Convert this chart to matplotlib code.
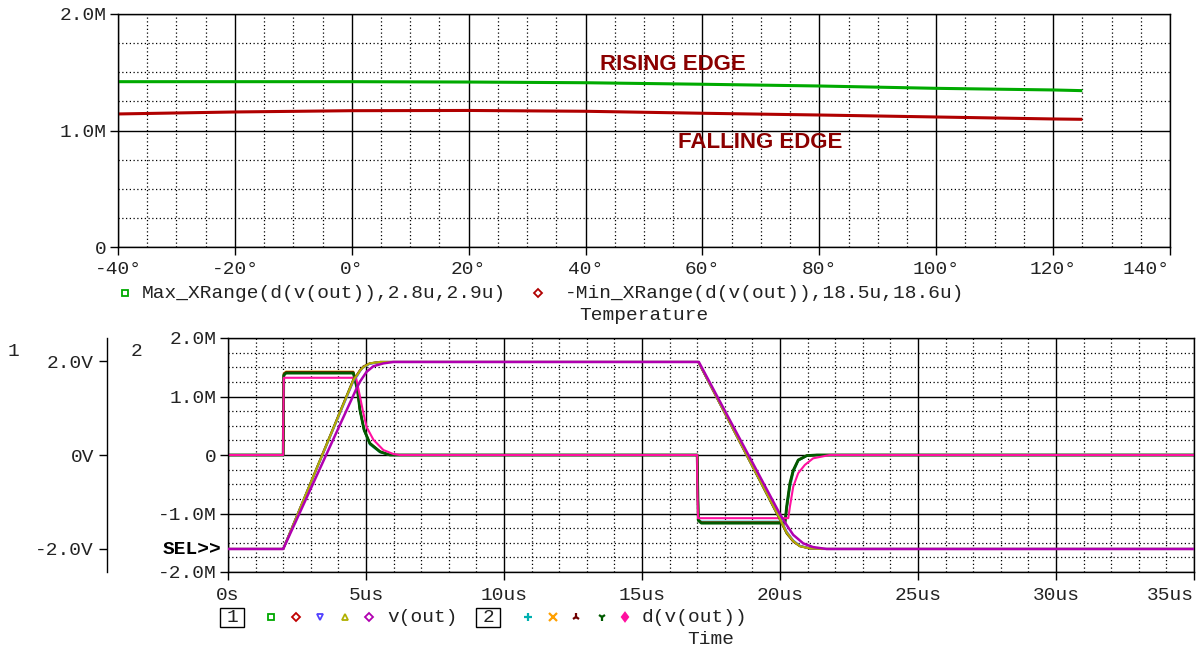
import matplotlib
matplotlib.use("Agg")
import matplotlib.pyplot as plt
import matplotlib.ticker as ticker
from matplotlib.lines import Line2D
from matplotlib.patches import Rectangle

plt.rcParams["font.family"] = ["Liberation Mono", "DejaVu Sans Mono"]
plt.rcParams["font.size"] = 14

W, H = 1199, 650

# ---- top chart: slew rate of v(out) vs temperature (units of 1e6 V/s)
temperature = [-40, -20, 0, 20, 40, 60, 80, 100, 120, 125]
rising_edge = [1.419, 1.419, 1.419, 1.416, 1.410, 1.397, 1.382, 1.362, 1.348, 1.342]
falling_edge = [1.142, 1.159, 1.170, 1.172, 1.165, 1.148, 1.133, 1.116, 1.099, 1.096]
temp_ticks = [-40, -20, 0, 20, 40, 60, 80, 100, 120, 140]
temp_labels = ["-40°", "-20°", "0°", "20°", "40°", "60°", "80°", "100°", "120°", "140°"]
slew_ticks = [0, 1, 2]
slew_labels = ["0", "1.0M", "2.0M"]

# ---- bottom chart: transient, time in us
time_ticks = [0, 5, 10, 15, 20, 25, 30, 35]
time_labels = ["0s", "5us", "10us", "15us", "20us", "25us", "30us", "35us"]
volt_ticks = [-2, 0, 2]
volt_labels = ["-2.0V", "0V", "2.0V"]
deriv_ticks = [-2, -1, 0, 1, 2]
deriv_labels = ["-2.0M", "-1.0M", "0", "1.0M", "2.0M"]

# v(out), axis 1 (V)
t_v_fast = [0, 2.0, 4.55, 4.69, 4.78, 4.9, 5.14, 5.51, 6.0, 17.04, 20.0, 20.24, 20.48, 20.72, 21.09, 21.5, 35]
v_green = [-2.0, -2.0, 1.62, 1.72, 1.80, 1.88, 1.95, 1.98, 1.98, 1.98, -1.38, -1.67, -1.84, -1.94, -1.99, -2.0, -2.0]
v_red = [-2.0, -2.0, 1.61, 1.72, 1.80, 1.88, 1.95, 1.98, 1.98, 1.98, -1.37, -1.66, -1.84, -1.94, -1.99, -2.0, -2.0]
v_blue = [-2.0, -2.0, 1.58, 1.69, 1.78, 1.87, 1.94, 1.98, 1.98, 1.98, -1.35, -1.63, -1.82, -1.93, -1.99, -2.0, -2.0]
v_olive = [-2.0, -2.0, 1.60, 1.71, 1.79, 1.87, 1.95, 1.98, 1.98, 1.98, -1.36, -1.65, -1.83, -1.94, -1.99, -2.0, -2.0]
t_v_slow = [0, 2.0, 4.66, 4.78, 5.02, 5.27, 5.63, 5.99, 17.06, 20.0, 20.24, 20.48, 20.84, 21.2, 21.69, 35]
v_purple = [-2.0, -2.0, 1.42, 1.56, 1.77, 1.89, 1.95, 1.98, 1.98, -1.26, -1.49, -1.70, -1.88, -1.96, -2.0, -2.0]

# d(v(out)), axis 2 (units of 1e6 V/s)
t_d_fast = [0, 2.0, 2.02, 2.10, 4.54, 4.69, 4.78, 4.93, 5.14, 5.51, 5.87, 17.0, 17.04, 17.15,
            20.18, 20.24, 20.36, 20.48, 20.66, 20.97, 21.33, 35]
d_cyan = [0, 0, 1.38, 1.42, 1.42, 1.12, 0.77, 0.42, 0.18, 0.045, 0, 0, -1.10, -1.14,
          -1.14, -0.95, -0.56, -0.30, -0.10, -0.015, 0, 0]
d_orange = [0, 0, 1.39, 1.425, 1.425, 1.13, 0.78, 0.43, 0.20, 0.055, 0, 0, -1.11, -1.155,
            -1.155, -0.91, -0.50, -0.27, -0.09, -0.01, 0, 0]
d_brown = [0, 0, 1.38, 1.415, 1.415, 1.12, 0.78, 0.43, 0.20, 0.055, 0, 0, -1.11, -1.155,
           -1.155, -0.90, -0.49, -0.27, -0.09, -0.01, 0, 0]
d_dkgreen = [0, 0, 1.36, 1.40, 1.40, 1.11, 0.77, 0.43, 0.20, 0.057, 0, 0, -1.12, -1.165,
             -1.165, -0.88, -0.48, -0.26, -0.085, -0.01, 0, 0]
t_d_slow = [0, 2.0, 2.0, 2.01, 2.02, 4.64, 4.76, 4.88, 5.02, 5.27, 5.63, 5.99, 6.23, 17.0, 17.0,
            17.01, 17.03, 20.3, 20.36, 20.48, 20.66, 20.9, 21.2, 21.8, 35]
d_pink = [0, 0, 0.5, 0.77, 1.32, 1.32, 1.05, 0.77, 0.48, 0.26, 0.085, 0.017, 0, 0, -0.35,
          -0.65, -1.08, -1.08, -0.88, -0.54, -0.31, -0.17, -0.057, 0, 0]


def px_rect(left, top, right, bottom):
    return [left / W, 1 - bottom / H, (right - left) / W, (bottom - top) / H]


def fx(x):
    return x / W


def fy(y):
    return 1 - y / H


def probe_style(ax, xminor, yminor):
    ax.xaxis.set_minor_locator(ticker.MultipleLocator(xminor))
    ax.yaxis.set_minor_locator(ticker.MultipleLocator(yminor))
    ax.grid(True, which="major", color="black", lw=1.0, ls="-")
    ax.grid(True, which="minor", color="black", lw=0.9, ls=(0, (1, 2)))
    ax.set_axisbelow(True)
    ax.tick_params(which="minor", length=0)
    ax.tick_params(which="major", direction="out", length=6, width=1.0, colors="black",
                   labelcolor="#222222")
    for s in ax.spines.values():
        s.set_linewidth(1.0)


fig = plt.figure(figsize=(W / 100, H / 100), dpi=100)

# ---------------- top chart
ax_t = fig.add_axes(px_rect(118, 14, 1170, 247))
ax_t.set_xlim(-40, 140)
ax_t.set_ylim(0, 2)
ax_t.set_xticks(temp_ticks)
ax_t.set_xticklabels(temp_labels)
ax_t.get_xticklabels()[-1].set_ha("right")
ax_t.set_yticks(slew_ticks)
ax_t.set_yticklabels(slew_labels)
probe_style(ax_t, 5, 0.25)
ax_t.tick_params(axis="y", pad=2)
ax_t.tick_params(axis="x", pad=4)
ax_t.plot(temperature, rising_edge, color="#00aa00", lw=2.2, solid_capstyle="butt")
ax_t.plot(temperature, falling_edge, color="#b00000", lw=2.2, solid_capstyle="butt")
ax_t.text(42.5, 1.57, "RISING EDGE", family="Liberation Sans", weight="bold",
          fontsize=16, color="#8b0000", ha="left", va="center")
ax_t.text(55.9, 0.90, "FALLING EDGE", family="Liberation Sans", weight="bold",
          fontsize=16, color="#8b0000", ha="left", va="center")

# top legend
fig.add_artist(Line2D([fx(125)], [fy(293)], marker="s", ms=4.5, mfc="none", mec="#00aa00",
                      mew=1.3, ls="none"))
fig.text(fx(142), fy(293), "Max_XRange(d(v(out)),2.8u,2.9u)", ha="left", va="center",
         color="#222222")
fig.add_artist(Line2D([fx(538)], [fy(293)], marker="D", ms=4, mfc="none", mec="#b00000",
                      mew=1.3, ls="none"))
fig.text(fx(565), fy(293), "-Min_XRange(d(v(out)),18.5u,18.6u)", ha="left", va="center",
         color="#222222")
fig.text(fx(644), fy(315), "Temperature", ha="center", va="center", color="#222222")

# ---------------- bottom chart
ax_d = fig.add_axes(px_rect(228, 338, 1194, 572))
ax_d.set_xlim(0, 35)
ax_d.set_ylim(-2, 2)
ax_d.set_xticks(time_ticks)
ax_d.set_xticklabels(time_labels)
ax_d.get_xticklabels()[-1].set_ha("right")
ax_d.set_yticks(deriv_ticks)
ax_d.set_yticklabels(deriv_labels)
probe_style(ax_d, 1, 0.25)
ax_d.tick_params(axis="y", pad=2)
ax_d.tick_params(axis="x", pad=5)

ax_d.plot(t_d_fast, d_cyan, color="#00b0b0", lw=1.5)
ax_d.plot(t_d_fast, d_orange, color="#ffa000", lw=1.5)
ax_d.plot(t_d_fast, d_brown, color="#700000", lw=1.5)
ax_d.plot(t_d_fast, d_dkgreen, color="#005a00", lw=2.0)
ax_d.plot(t_d_slow, d_pink, color="#ff10a0", lw=1.5)

ax_v = ax_d.twinx()
ax_v.set_ylim(-2.49, 2.49)
ax_v.yaxis.tick_left()
for side in ["right", "top", "bottom"]:
    ax_v.spines[side].set_visible(False)
ax_v.spines["left"].set_visible(True)
ax_v.spines["left"].set_position(("axes", (106.5 - 228) / 966))
ax_v.spines["left"].set_linewidth(1.0)
ax_v.set_yticks(volt_ticks)
ax_v.set_yticklabels(volt_labels)
ax_v.tick_params(axis="y", direction="out", length=6, width=1.0, pad=3, labelcolor="#222222")

ax_v.plot(t_v_fast, v_green, color="#00a800", lw=1.5)
ax_v.plot(t_v_fast, v_red, color="#c00000", lw=1.5)
ax_v.plot(t_v_fast, v_blue, color="#5040ff", lw=1.5)
ax_v.plot(t_v_fast, v_olive, color="#b0b000", lw=1.5)
ax_v.plot(t_v_slow, v_purple, color="#b000b0", lw=1.8)

fig.text(fx(13), fy(351), "1", ha="center", va="center", color="#222222")
fig.text(fx(137), fy(351), "2", ha="center", va="center", color="#222222")
fig.text(fx(221), fy(549), "SEL>>", ha="right", va="center", weight="bold", color="black")

# bottom legend
leg_y = fy(617)
for x0 in (220, 476):
    fig.add_artist(Rectangle((fx(x0), fy(627)), fx(24), 19 / H, fill=False,
                             ec="black", lw=1.0, transform=fig.transFigure))
fig.text(fx(232), leg_y, "1", ha="center", va="center", color="#222222")
fig.text(fx(488), leg_y, "2", ha="center", va="center", color="#222222")

v_markers = [(271, "s", "#00a800"), (296, "D", "#c00000"), (320, "v", "#5040ff"),
             (345, "^", "#b0b000"), (369, "D", "#b000b0")]
for x0, m, c in v_markers:
    ms = 3.6 if m == "D" else 4.5
    fig.add_artist(Line2D([fx(x0)], [leg_y], marker=m, ms=ms, mfc="none", mec=c,
                          mew=1.3, ls="none"))
fig.text(fx(387), leg_y, "v(out)", ha="left", va="center", color="#222222")

d_markers = [(528, "+", "#00b0b0"), (553, "x", "#ffa000"), (576, "2", "#700000"),
             (602, "1", "#005a00"), (625, "d", "#ff10a0")]
for x0, m, c in d_markers:
    fig.add_artist(Line2D([fx(x0)], [leg_y], marker=m, ms=6 if m != "d" else 4.5,
                          mfc=c, mec=c, mew=1.6, ls="none"))
fig.text(fx(642), leg_y, "d(v(out))", ha="left", va="center", color="#222222")
fig.text(fx(711), fy(640), "Time", ha="center", va="center", color="#222222")

fig.savefig("out.png", dpi=100)
